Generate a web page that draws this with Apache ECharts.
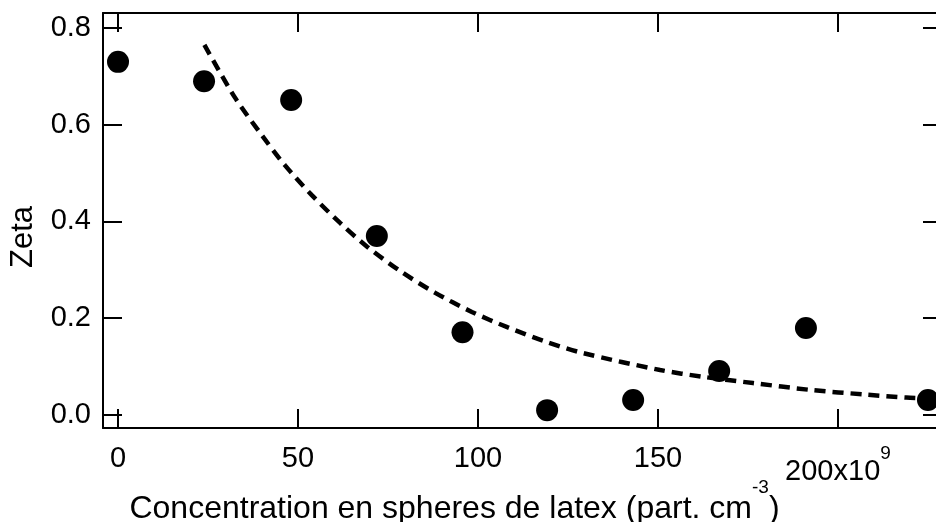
<!DOCTYPE html>
<html>
<head>
<meta charset="utf-8">
<script src="https://cdn.jsdelivr.net/npm/echarts@6/dist/echarts.min.js"></script>
<style>
html,body{margin:0;padding:0;background:#fff;}
#chart{width:936px;height:522px;}
</style>
</head>
<body>
<div id="chart"></div>
<script>
// Measured points (concentration in 1e9 part. cm^-3, zeta)
const concentration = [0, 23.9, 48.1, 71.9, 95.7, 119.2, 143.1, 167, 191.1, 225];
const zeta = [0.730, 0.690, 0.651, 0.370, 0.171, 0.010, 0.031, 0.091, 0.180, 0.031];

// Dashed fit curve
const fitX = [24, 32.5, 40, 46.4, 53.9, 61.7, 69.2, 78.3, 88, 98.3, 108.3, 118.6, 129.2, 150.6, 162.5, 176.4, 192.2, 208, 219, 225];
const fitY = [0.765, 0.656, 0.578, 0.516, 0.454, 0.397, 0.348, 0.298, 0.253, 0.213, 0.181, 0.152, 0.128, 0.093, 0.079, 0.066, 0.052, 0.042, 0.036, 0.034];

const xTicks = [0, 50, 100, 150, 200];
const yTicks = [0, 0.2, 0.4, 0.6, 0.8];
const xName = 'Concentration en spheres de latex (part. cm';
const yName = 'Zeta';

const FONT = '"Liberation Sans", Arial, sans-serif';
const chart = echarts.init(document.getElementById('chart'));

const lineStyle = {color: '#000', width: 2};
const tickStyle = {color: '#000', width: 2};

chart.setOption({
  animation: false,
  backgroundColor: '#fff',
  grid: {left: 103, top: 13, width: 839, height: 415, containLabel: false, outerBoundsMode: 'none'},
  xAxis: [{
    type: 'value', position: 'bottom', min: -4.17, max: 228.9,
    splitLine: {show: false},
    axisLine: {show: true, onZero: false, lineStyle: lineStyle},
    axisTick: {show: true, inside: true, length: 19, lineStyle: tickStyle, customValues: xTicks},
    axisLabel: {
      show: true, margin: 16, color: '#000', fontFamily: FONT, fontSize: 29,
      customValues: xTicks,
      formatter: function (v) { return v === 200 ? '{a|200x10}{s|9}' : String(v); },
      rich: {
        a: {fontFamily: FONT, fontSize: 29, color: '#000', padding: [13, 0, 0, 0], verticalAlign: 'bottom'},
        s: {fontFamily: FONT, fontSize: 19, color: '#000', verticalAlign: 'top'}
      }
    },
    name: '{m|' + xName + '}{s|-3}{m|)}',
    nameLocation: 'middle', nameGap: 50, nameMoveOverlap: false,
    nameTextStyle: {
      color: '#000', fontFamily: FONT, fontSize: 32, padding: [0, 136, 0, 0],
      rich: {
        m: {fontFamily: FONT, fontSize: 32, color: '#000', padding: [15, 0, 0, 0], verticalAlign: 'bottom'},
        s: {fontFamily: FONT, fontSize: 19, color: '#000', verticalAlign: 'top'}
      }
    }
  }, {
    type: 'value', position: 'top', min: -4.17, max: 228.9,
    splitLine: {show: false},
    axisLine: {show: true, onZero: false, lineStyle: lineStyle},
    axisTick: {show: true, inside: true, length: 19, lineStyle: tickStyle, customValues: xTicks},
    axisLabel: {show: false}
  }],
  yAxis: [{
    type: 'value', position: 'left', min: -0.0269, max: 0.831,
    splitLine: {show: false},
    axisLine: {show: true, onZero: false, lineStyle: lineStyle},
    axisTick: {show: true, inside: true, length: 19, lineStyle: tickStyle, customValues: yTicks},
    axisLabel: {
      show: true, margin: 12, color: '#000', fontFamily: FONT, fontSize: 29,
      customValues: yTicks,
      formatter: function (v) { return v.toFixed(1); }
    },
    name: yName, nameLocation: 'middle', nameGap: 64, nameRotate: 90, nameMoveOverlap: false,
    nameTextStyle: {color: '#000', fontFamily: FONT, fontSize: 31, padding: [0, 33, 0, 0]}
  }, {
    type: 'value', position: 'right', min: -0.0269, max: 0.831,
    splitLine: {show: false},
    axisLine: {show: true, onZero: false, lineStyle: lineStyle},
    axisTick: {show: true, inside: true, length: 19, lineStyle: tickStyle, customValues: yTicks},
    axisLabel: {show: false}
  }],
  series: [{
    type: 'line',
    xAxisIndex: 0, yAxisIndex: 0,
    data: fitX.map((x, i) => [x, fitY[i]]),
    smooth: 0.3, showSymbol: false, symbol: 'none',
    lineStyle: {color: '#000', width: 4.5, type: [11, 7]},
    z: 2
  }, {
    type: 'scatter',
    xAxisIndex: 0, yAxisIndex: 0,
    data: concentration.map((x, i) => [x, zeta[i]]),
    symbol: 'circle', symbolSize: 22,
    itemStyle: {color: '#000', opacity: 1},
    clip: false,
    z: 3
  }]
});
</script>
</body>
</html>
